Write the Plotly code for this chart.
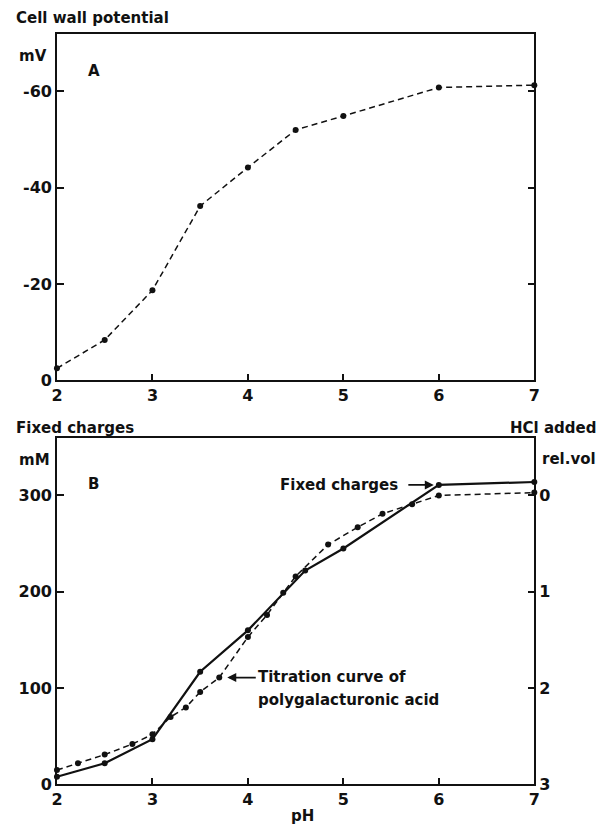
import plotly.graph_objects as go

# Panel A: cell wall potential (mV) vs pH
ph_a = [2, 2.5, 3, 3.5, 4, 4.5, 5, 6, 7]
mv_a = [-2.5, -8.4, -18.7, -36.2, -44.2, -52.0, -54.9, -60.8, -61.3]

# Panel B: fixed charges (mM) vs pH
ph_fixed = [2, 2.5, 3, 3.5, 4, 4.6, 5, 6, 7]
mm_fixed = [8, 22, 47, 117, 160, 222, 245, 311, 314]

# Panel B: titration curve of polygalacturonic acid, HCl added (rel. vol)
ph_titr = [2, 2.22, 2.5, 2.79, 3, 3.19, 3.35, 3.5, 3.7, 4, 4.2, 4.37, 4.5,
           4.84, 5.15, 5.41, 5.72, 6, 7]
hcl_titr = [2.85, 2.78, 2.69, 2.58, 2.48, 2.30, 2.20, 2.04, 1.89, 1.47, 1.24,
            1.01, 0.84, 0.51, 0.33, 0.19, 0.09, 0.00, -0.03]

x_ticks = [2, 3, 4, 5, 6, 7]
a_tickvals = [0, -20, -40, -60]
a_ticktext = ["0", "-20", "-40", "-60"]
b_tickvals = [0, 100, 200, 300]
hcl_tickvals = [0, 1, 2, 3]

W, H = 605, 832
FONT = "DejaVu Sans"
BLACK = "#111111"

def px(x):
    return x / W

def py(y):
    return 1 - y / H

fig = go.Figure()

fig.add_trace(go.Scatter(
    x=ph_a, y=mv_a, mode="lines+markers", xaxis="x", yaxis="y",
    line=dict(color=BLACK, width=1.5, dash="6px,4px"),
    marker=dict(color=BLACK, size=6), cliponaxis=False, showlegend=False))

fig.add_trace(go.Scatter(
    x=ph_fixed, y=mm_fixed, mode="lines+markers", xaxis="x2", yaxis="y2",
    line=dict(color=BLACK, width=2.2),
    marker=dict(color=BLACK, size=6), cliponaxis=False, showlegend=False))

fig.add_trace(go.Scatter(
    x=ph_titr, y=hcl_titr, mode="lines+markers", xaxis="x2", yaxis="y3",
    line=dict(color=BLACK, width=1.5, dash="6px,4px"),
    marker=dict(color=BLACK, size=6), cliponaxis=False, showlegend=False))

xdom = [px(52), px(539)]
tickfont = dict(family=FONT, size=16, color=BLACK, weight="bold")
axis_common = dict(showgrid=False, zeroline=False, showline=True,
                   linecolor=BLACK, linewidth=1.6, ticks="inside",
                   ticklen=7, tickwidth=1.6, tickcolor=BLACK,
                   tickfont=tickfont, ticklabelstandoff=0)

fig.update_layout(
    width=W, height=H,
    margin=dict(l=0, r=0, t=0, b=0),
    paper_bgcolor="white", plot_bgcolor="white",
    font=dict(family=FONT, size=15, color=BLACK, weight="bold"),
    xaxis=dict(domain=xdom, anchor="y", range=[2, 7], tickvals=x_ticks,
               mirror=True, **axis_common),
    yaxis=dict(domain=[py(385), py(34)], anchor="x", range=[0, -72],
               tickvals=a_tickvals, ticktext=a_ticktext, mirror="ticks",
               **axis_common),
    xaxis2=dict(domain=xdom, anchor="y2", range=[2, 7], tickvals=x_ticks,
                mirror=True, **axis_common),
    yaxis2=dict(domain=[py(794), py(443)], anchor="x2", range=[0, 360],
                tickvals=b_tickvals, **axis_common),
    yaxis3=dict(overlaying="y2", anchor="x2", side="right", range=[3, -0.6],
                tickvals=hcl_tickvals, **axis_common),
)

def label(text, x, y, xanchor="left"):
    fig.add_annotation(text=text, xref="paper", yref="paper",
                       x=px(x), y=py(y), xanchor=xanchor, yanchor="middle",
                       showarrow=False, borderpad=0,
                       font=dict(family=FONT, size=15, color=BLACK, weight="bold"))

label("Cell wall potential", 9, 18)
label("mV", 12, 57)
label("A", 83, 72)
label("Fixed charges", 9, 433)
label("mM", 12, 466)
label("B", 83, 490)
label("HCl added", 603, 433, "right")
label("rel.vol", 603, 465, "right")
label("pH", 302, 826, "center")
label("Fixed charges", 279, 491)
label("Titration curve of", 256, 685)
label("polygalacturonic acid", 256, 709)

# arrows
fig.add_annotation(x=ph_fixed[7], y=mm_fixed[7], xref="x2", yref="y2",
                   ax=-32, ay=0, text="", showarrow=True, arrowhead=2,
                   arrowsize=1, arrowwidth=1.8, arrowcolor=BLACK, standoff=5)
fig.add_annotation(x=ph_titr[8], y=hcl_titr[8], xref="x2", yref="y3",
                   ax=38, ay=0, text="", showarrow=True, arrowhead=2,
                   arrowsize=1, arrowwidth=1.8, arrowcolor=BLACK, standoff=8)

fig.write_html("out.html")
